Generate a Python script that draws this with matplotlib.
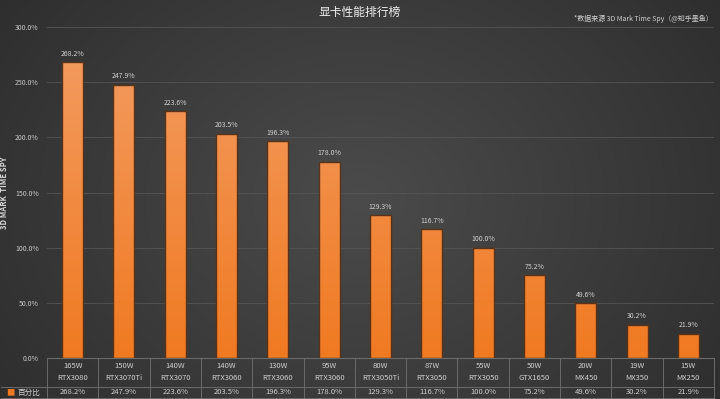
import matplotlib.pyplot as plt
import numpy as np
from matplotlib.colors import LinearSegmentedColormap
from matplotlib.transforms import blended_transform_factory

plt.rcParams['font.family'] = ['Noto Sans CJK SC', 'DejaVu Sans']

watts = ['165W', '150W', '140W', '140W', '130W', '95W', '80W', '87W',
         '55W', '50W', '20W', '19W', '15W']
gpus = ['RTX3080', 'RTX3070Ti', 'RTX3070', 'RTX3060', 'RTX3060', 'RTX3060',
        'RTX3050Ti', 'RTX3050', 'RTX3050', 'GTX1650', 'MX450', 'MX350', 'MX250']
scores = [268.2, 247.9, 223.6, 203.5, 196.3, 178.0, 129.3, 116.7,
          100.0, 75.2, 49.6, 30.2, 21.9]

fig = plt.figure(figsize=(7.2, 3.99), dpi=100)

# background: dark radial-ish gradient
bg = fig.add_axes([0, 0, 1, 1], zorder=-10)
gx, gy = np.meshgrid(np.linspace(-1, 1, 360), np.linspace(-1, 1, 200))
r = np.sqrt((gx / 1.1) ** 2 + (gy / 1.6) ** 2)
bg_cmap = LinearSegmentedColormap.from_list('bg', ['#4b4b4b', '#2c2c2c'])
bg.imshow(r, cmap=bg_cmap, aspect='auto', extent=[0, 1, 0, 1], vmin=0, vmax=1.2)
bg.axis('off')

ax = fig.add_axes([0.0653, 0.1028, 0.9264, 0.8292])
ax.set_facecolor('none')
n = len(scores)
x = np.arange(n)
ax.set_xlim(-0.5, n - 0.5)
ax.set_ylim(0, 300)

# bars with vertical gradient, clipped to the bar shape
bar_cmap = LinearSegmentedColormap.from_list('bar', ['#f07a22', '#f39a5e'])
bars = ax.bar(x, scores, width=0.41, color='none', edgecolor='#5a3218',
              linewidth=1.0, zorder=3)
top = max(scores)
for b in bars:
    x0, w = b.get_x(), b.get_width()
    im = ax.imshow(np.linspace(0, 1, 100).reshape(-1, 1), cmap=bar_cmap,
                   extent=[x0, x0 + w, 0, top + 5], origin='lower',
                   aspect='auto', zorder=2)
    im.set_clip_path(b)
ax.set_aspect('auto')
ax.set_xlim(-0.5, n - 0.5)
ax.set_ylim(0, 300)

for xi, v in zip(x, scores):
    ax.text(xi, v + 4, f'{v:.1f}%', ha='center', va='bottom',
            fontsize=5, color='#d0d0d0', zorder=4)

ax.set_yticks(np.arange(0, 301, 50))
ax.set_yticklabels([f'{t:.1f}%' for t in np.arange(0, 301, 50)])
ax.tick_params(axis='y', length=0, labelsize=5, labelcolor='#c8c8c8', pad=6)
ax.set_xticks([])
ax.grid(axis='y', color='#555555', linewidth=0.6, zorder=0)
for s in ['top', 'right', 'left']:
    ax.spines[s].set_visible(False)
ax.spines['bottom'].set_color('#6a6a6a')
ax.spines['bottom'].set_linewidth(0.8)
ax.set_ylabel('3D MARK  TIME SPY', fontsize=5.5, color='#d8d8d8',
              fontweight='bold', labelpad=4)

# data table under the axis
tr = blended_transform_factory(ax.transData, ax.transAxes)
line_kw = dict(color='#6a6a6a', linewidth=0.7, clip_on=False, transform=tr)
row_split = -0.087
table_bottom = -0.121
for b in np.arange(-0.5, n + 0.5, 1.0):
    ax.plot([b, b], [0, table_bottom], **line_kw)
ax.plot([-1.4, n - 0.5], [row_split, row_split], **line_kw)
ax.plot([-1.4, n - 0.5], [table_bottom, table_bottom], **line_kw)
for xi in x:
    ax.text(xi, -0.025, watts[xi], transform=tr, ha='center', va='center',
            fontsize=5.5, color='#d0d0d0')
    ax.text(xi, -0.06, gpus[xi], transform=tr, ha='center', va='center',
            fontsize=5.5, color='#d0d0d0')
    ax.text(xi, -0.104, f'{scores[xi]:.1f}%', transform=tr, ha='center',
            va='center', fontsize=5.5, color='#d0d0d0')
ax.text(-1.22, -0.104, '■', transform=tr, ha='center', va='center',
        fontsize=6, color='#f07a22')
ax.text(-0.86, -0.104, '百分比', transform=tr, ha='center', va='center',
        fontsize=5.5, color='#d0d0d0')

fig.text(0.5, 0.968, '显卡性能排行榜', ha='center', va='center',
         fontsize=8.5, color='#f0f0f0')
fig.text(0.893, 0.952, '*数据来源 3D Mark Time Spy（@知乎墨鱼）', ha='center',
         va='center', fontsize=5, color='#d0d0d0')

fig.savefig('out.png', dpi=100)
